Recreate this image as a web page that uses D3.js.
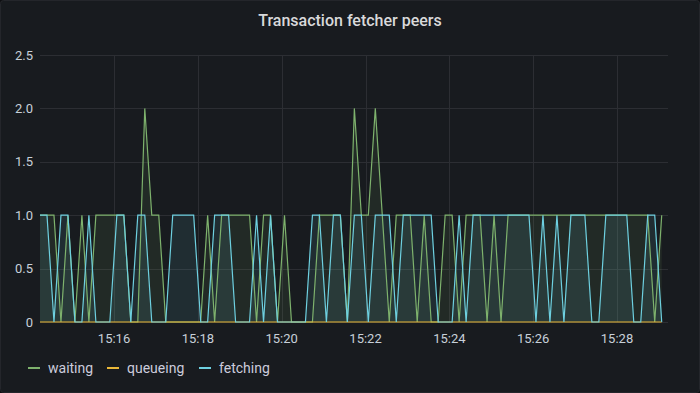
<!DOCTYPE html>
<html>
<head>
<meta charset="utf-8">
<script src="https://cdn.jsdelivr.net/npm/d3@7"></script>
<style>
  html, body { margin: 0; padding: 0; background: #0d0e11; }
  svg { display: block; font-family: Roboto, "Noto Sans", sans-serif; }
</style>
</head>
<body>
<div id="chart"></div>
<script>
// sampling grid: one point every 10 s
const startTime = new Date(2021, 0, 1, 15, 14, 14);
const stepSeconds = 10;

const waiting = [
  1, 1, 1, 0, 1, 0, 1, 0, 1, 1, 1, 1, 1, 0, 0, 2, 1, 1, 0, 0,
  0, 0, 0, 0, 1, 0, 1, 1, 1, 1, 1, 0, 1, 1, 0, 1, 0, 0, 0, 0,
  1, 1, 1, 1, 0, 2, 1, 1, 2, 1, 0, 1, 1, 1, 0, 1, 0, 0, 1, 1,
  0, 1, 1, 1, 0, 1, 0, 1, 1, 1, 1, 1, 1, 1, 1, 1, 1, 1, 1, 1,
  1, 1, 1, 1, 1, 1, 1, 1, 0, 1
];
const queueing = [
  0, 0, 0, 0, 0, 0, 0, 0, 0, 0, 0, 0, 0, 0, 0, 0, 0, 0, 0, 0,
  0, 0, 0, 0, 0, 0, 0, 0, 0, 0, 0, 0, 0, 0, 0, 0, 0, 0, 0, 0,
  0, 0, 0, 0, 0, 0, 0, 0, 0, 0, 0, 0, 0, 0, 0, 0, 0, 0, 0, 0,
  0, 0, 0, 0, 0, 0, 0, 0, 0, 0, 0, 0, 0, 0, 0, 0, 0, 0, 0, 0,
  0, 0, 0, 0, 0, 0, 0, 0, 0, 0
];
const fetching = [
  1, 1, 0, 1, 1, 0, 0, 1, 0, 0, 0, 1, 1, 0, 1, 1, 0, 0, 0, 1,
  1, 1, 1, 0, 0, 1, 1, 1, 0, 0, 0, 1, 0, 1, 0, 0, 0, 0, 0, 1,
  1, 0, 1, 1, 0, 1, 1, 0, 1, 1, 1, 0, 1, 1, 1, 1, 1, 0, 0, 0,
  1, 0, 1, 1, 1, 1, 1, 1, 1, 1, 1, 0, 1, 0, 1, 0, 1, 1, 1, 0,
  0, 1, 1, 1, 1, 0, 0, 1, 1, 0
];

const seriesNames = ['waiting', 'queueing', 'fetching'];
const seriesColors = ['#7eb26d', '#eab839', '#6ed0e0'];
const yTicks = [0, 0.5, 1.0, 1.5, 2.0, 2.5];

const width = 700;
const height = 393;

const times = waiting.map((d, i) => new Date(startTime.getTime() + i * stepSeconds * 1000));
const series = [waiting, queueing, fetching].map((values, i) => ({
  name: seriesNames[i],
  color: seriesColors[i],
  points: values.map((v, j) => ({ t: times[j], v })),
}));

const svg = d3.select('#chart')
  .append('svg')
  .attr('width', width)
  .attr('height', height);

// panel
svg.append('rect')
  .attr('x', 0.5).attr('y', 0.5)
  .attr('width', width - 1).attr('height', height - 1)
  .attr('rx', 3)
  .attr('fill', '#181b1f')
  .attr('stroke', '#24262b');

svg.append('text')
  .attr('x', width / 2)
  .attr('y', 26)
  .attr('text-anchor', 'middle')
  .attr('fill', '#d8d9da')
  .style('font-size', '16px')
  .style('font-weight', 500)
  .text('Transaction fetcher peers');

const x = d3.scaleTime()
  .domain([new Date(2021, 0, 1, 15, 14, 14), new Date(2021, 0, 1, 15, 29, 13)])
  .range([40, 668]);

const y = d3.scaleLinear()
  .domain([0, 2.5])
  .range([322, 55]);

// grid
const xTicks = x.ticks(d3.timeMinute.every(2));
svg.append('g')
  .selectAll('line')
  .data(yTicks)
  .enter()
  .append('line')
  .attr('x1', 40).attr('x2', 668)
  .attr('y1', d => Math.round(y(d)) + 0.5)
  .attr('y2', d => Math.round(y(d)) + 0.5)
  .attr('stroke', '#2c2e33');

svg.append('g')
  .selectAll('line')
  .data(xTicks)
  .enter()
  .append('line')
  .attr('x1', d => Math.round(x(d)) + 0.5)
  .attr('x2', d => Math.round(x(d)) + 0.5)
  .attr('y1', 55).attr('y2', 322)
  .attr('stroke', '#2c2e33');

// axis labels
svg.append('g')
  .selectAll('text')
  .data(yTicks)
  .enter()
  .append('text')
  .attr('x', 33)
  .attr('y', d => y(d))
  .attr('dy', '0.35em')
  .attr('text-anchor', 'end')
  .attr('fill', '#c7d0d9')
  .style('font-size', '13px')
  .text(d => (d === 0 ? '0' : d3.format('.1f')(d)));

svg.append('g')
  .selectAll('text')
  .data(xTicks)
  .enter()
  .append('text')
  .attr('x', d => x(d))
  .attr('y', 338)
  .attr('dy', '0.35em')
  .attr('text-anchor', 'middle')
  .attr('fill', '#c7d0d9')
  .style('font-size', '13px')
  .text(d => d3.timeFormat('%H:%M')(d));

// series
const area = d3.area()
  .x(d => x(d.t))
  .y0(y(0))
  .y1(d => y(d.v));

const line = d3.line()
  .x(d => x(d.t))
  .y(d => y(d.v));

const plot = svg.append('g');

plot.selectAll('.area')
  .data(series)
  .enter()
  .append('path')
  .attr('d', d => area(d.points))
  .attr('fill', d => d.color)
  .attr('fill-opacity', 0.1);

plot.selectAll('.line')
  .data(series)
  .enter()
  .append('path')
  .attr('d', d => line(d.points))
  .attr('fill', 'none')
  .attr('stroke', d => d.color)
  .attr('stroke-width', 1.2);

// legend
const legendX = [28, 107, 199];
const legend = svg.append('g')
  .selectAll('g')
  .data(series)
  .enter()
  .append('g')
  .attr('transform', (d, i) => `translate(${legendX[i]}, 368)`);

legend.append('line')
  .attr('x1', 0).attr('x2', 12)
  .attr('stroke', d => d.color)
  .attr('stroke-width', 2);

legend.append('text')
  .attr('x', 20)
  .attr('dy', '0.35em')
  .attr('fill', '#ccccdc')
  .style('font-size', '14px')
  .text(d => d.name);
</script>
</body>
</html>
